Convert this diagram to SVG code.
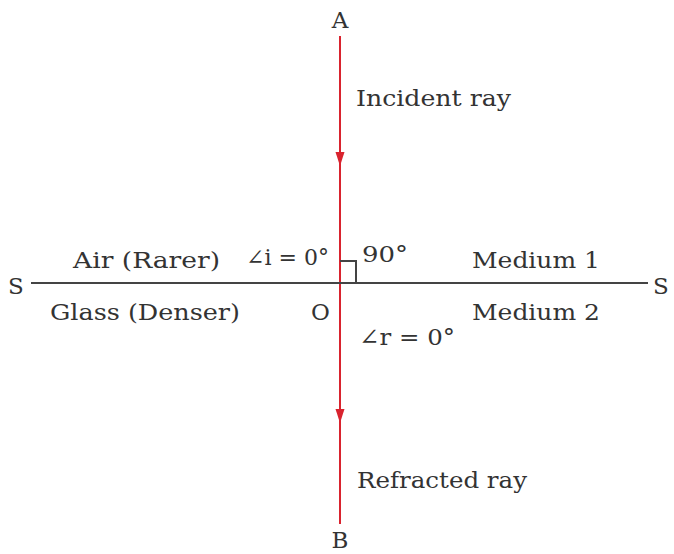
<svg xmlns="http://www.w3.org/2000/svg" width="674" height="554" viewBox="0 0 674 554">
<style>
text{font-family:"DejaVu Serif","Liberation Serif",serif;font-size:23px;fill:#333}
.ray{stroke:#d9232e;stroke-width:2;fill:none}
.arrow{fill:#d9232e}
.surf{stroke:#444;stroke-width:2;fill:none}
</style>
<rect width="674" height="554" fill="#fff"/>
<g id="connectors">
<line id="ray" class="ray" x1="340" y1="36" x2="340" y2="524"/>
<path class="arrow" d="M335.5 152 L344.5 152 L340 166 Z"/>
<path class="arrow" d="M335.5 409 L344.5 409 L340 423 Z"/>
<line id="surface" class="surf" x1="31" y1="283" x2="648" y2="283"/>
<path class="surf" d="M340 261 H356 V283" stroke-width="1.5"/>
</g>
<g id="labels">
<text id="A" x="340" y="28" text-anchor="middle">A</text>
<text id="B" x="340" y="548" text-anchor="middle">B</text>
<text id="incident" x="356" y="106" textLength="155" lengthAdjust="spacingAndGlyphs">Incident ray</text>
<text id="refracted" x="357" y="488" textLength="170" lengthAdjust="spacingAndGlyphs">Refracted ray</text>
<text id="angle-i" x="329" y="265" text-anchor="end" style="font-size:22px">∠i = 0°</text>
<text id="angle-90" x="362" y="262" textLength="46" lengthAdjust="spacingAndGlyphs">90°</text>
<text id="angle-r" x="359" y="345" textLength="96" lengthAdjust="spacingAndGlyphs">∠r = 0°</text>
<text id="air" x="73" y="268" textLength="147" lengthAdjust="spacingAndGlyphs">Air (Rarer)</text>
<text id="glass" x="50" y="320" textLength="190" lengthAdjust="spacingAndGlyphs">Glass (Denser)</text>
<text id="m1" x="472" y="268" textLength="128" lengthAdjust="spacingAndGlyphs">Medium 1</text>
<text id="m2" x="472" y="320" textLength="128" lengthAdjust="spacingAndGlyphs">Medium 2</text>
<text id="S1" x="8" y="294">S</text>
<text id="S2" x="653" y="294">S</text>
<text id="O" x="311" y="320">O</text>
</g>
</svg>
